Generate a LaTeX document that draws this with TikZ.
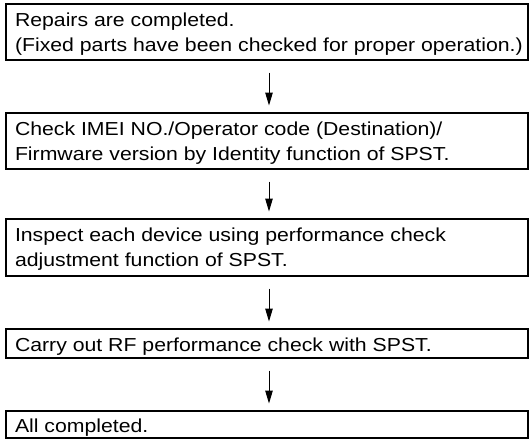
\documentclass[tikz,border=0pt]{standalone}
\usepackage{fontspec}
\setmainfont{Liberation Sans}[FakeStretch=1.13]
\usetikzlibrary{arrows.meta}
\begin{document}
\begin{tikzpicture}[x=1pt,y=-1pt,
  box/.style={draw=black, line width=2pt, rectangle, minimum width=522pt, inner sep=0pt, outer sep=0pt, anchor=north west},
  txt/.style={anchor=base west, inner sep=0pt, outer sep=0pt, font=\fontsize{18.8}{25}\selectfont},
  arr/.style={draw=black, line width=1pt, -{Triangle[length=13pt,width=7.5pt]}, shorten <=12.5pt, shorten >=7.5pt}]
\useasboundingbox[fill=white] (0,0) rectangle (530,439);
\node[box, minimum height=56pt] (b1) at (6,4) {};
\node[box, minimum height=56pt] (b2) at (6,113) {};
\node[box, minimum height=57pt] (b3) at (6,219) {};
\node[box, minimum height=29pt] (b4) at (6,329) {};
\node[box, minimum height=26.5pt] (b5) at (6,411) {};
\node[txt] (t1a) at (15,26) {Repairs are completed.};
\node[txt] (t1b) at (15,51) {(Fixed parts have been checked for proper operation.)};
\node[txt] (t2a) at (15,135) {Check IMEI NO./Operator code (Destination)/};
\node[txt] (t2b) at (15,160) {Firmware version by Identity function of SPST.};
\node[txt] (t3a) at (15,241.5) {Inspect each device using performance check};
\node[txt] (t3b) at (15,266.5) {adjustment function of SPST.};
\node[txt] (t4) at (15,351) {Carry out RF performance check with SPST.};
\node[txt] (t5) at (15,432) {All completed.};
\draw[arr] ([xshift=2pt]b1.south) -- ([xshift=2pt]b2.north);
\draw[arr] ([xshift=2pt]b2.south) -- ([xshift=2pt]b3.north);
\draw[arr] ([xshift=2pt]b3.south) -- ([xshift=2pt]b4.north);
\draw[arr] ([xshift=2pt]b4.south) -- ([xshift=2pt]b5.north);
\end{tikzpicture}
\end{document}
